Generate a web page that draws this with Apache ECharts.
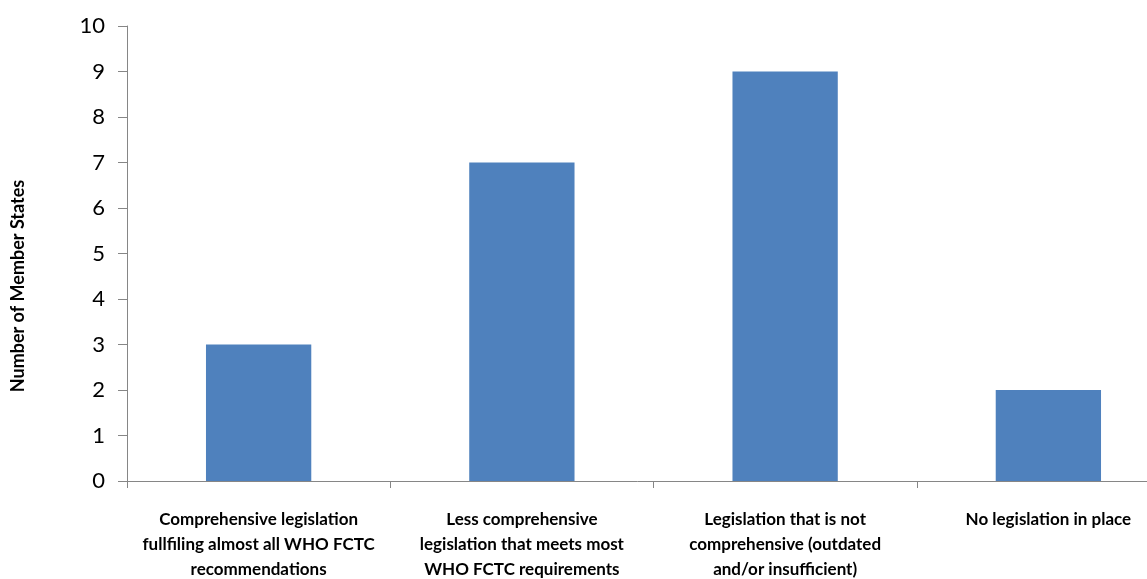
<!DOCTYPE html>
<html>
<head>
<meta charset="utf-8">
<script src="https://cdn.jsdelivr.net/npm/echarts@6/dist/echarts.min.js"></script>
<style>
  html, body { margin: 0; padding: 0; background: #fff; }
  #chart { width: 1147px; height: 579px; }
</style>
</head>
<body>
<div id="chart"></div>
<script>
// categories and values
const categories = [
    "Comprehensive legislation\nfullfiling almost all WHO FCTC\nrecommendations",
    "Less comprehensive\nlegislation that meets most\nWHO FCTC requirements",
    "Legislation that is not\ncomprehensive (outdated\nand/or insufficient)",
    "No legislation in place"
];
const memberStates = [3, 7, 9, 2];
const yTicks = { min: 0, max: 10, interval: 1 };

const axisGray = "#868686";

const chart = echarts.init(document.getElementById("chart"));
chart.setOption({
    animation: false,
    grid: { left: 127, right: -33, top: 26, bottom: 98, containLabel: false, outerBoundsMode: "none" },
    graphic: [{
        type: "text",
        x: 18,
        y: 286,
        rotation: Math.PI / 2,
        style: {
            text: "Number of Member States",
            font: "bold 18px Lato",
            fill: "#000",
            align: "center",
            verticalAlign: "middle"
        }
    }],
    xAxis: {
        type: "category",
        data: categories,
        axisLine: { lineStyle: { color: axisGray, width: 1 } },
        axisTick: { show: true, length: 7, alignWithLabel: false, lineStyle: { color: axisGray } },
        axisLabel: {
            interval: 0,
            margin: 26,
            color: "#000",
            fontFamily: "Lato",
            fontWeight: "bold",
            fontSize: 17,
            lineHeight: 25
        }
    },
    yAxis: {
        type: "value",
        min: yTicks.min,
        max: yTicks.max,
        interval: yTicks.interval,
        splitLine: { show: false },
        axisLine: { show: true, lineStyle: { color: axisGray, width: 1 } },
        axisTick: { show: true, length: 9, lineStyle: { color: axisGray } },
        axisLabel: {
            margin: 22,
            color: "#000",
            fontFamily: "Lato",
            fontSize: 22
        }
    },
    series: [{
        type: "bar",
        data: memberStates,
        barWidth: "40%",
        itemStyle: { color: "#4F81BD" }
    }]
});
</script>
</body>
</html>
